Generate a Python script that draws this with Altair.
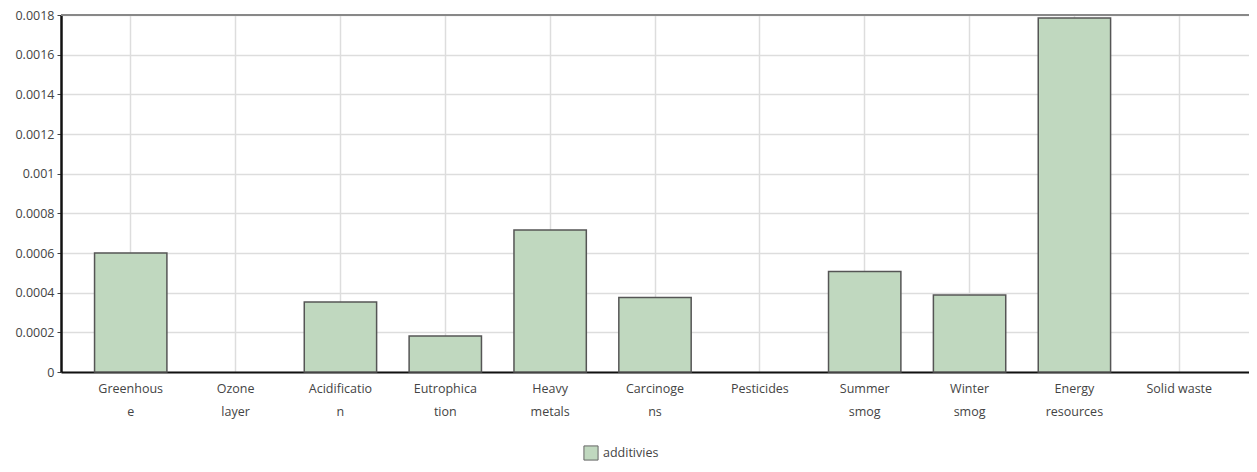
import altair as alt
import pandas as pd

categories = ["Greenhous\ne", "Ozone\nlayer", "Acidificatio\nn", "Eutrophica\ntion",
              "Heavy\nmetals", "Carcinoge\nns", "Pesticides", "Summer\nsmog",
              "Winter\nsmog", "Energy\nresources", "Solid waste"]
values = [0.000600, 0.0, 0.000353, 0.000182, 0.000716, 0.000376, 0.0,
          0.000507, 0.000388, 0.001785, 0.0]
series = ["additivies"] * len(categories)
y_ticks = [0, 0.0002, 0.0004, 0.0006, 0.0008, 0.001,
           0.0012, 0.0014, 0.0016, 0.0018]

df = pd.DataFrame({"category": categories, "value": values, "series": series})

FONT = "Open Sans"

x = alt.X("category:N", sort=categories, title=None,
          scale=alt.Scale(domain=categories, paddingInner=0.31, paddingOuter=0.32),
          axis=alt.Axis(labelAngle=0, labelExpr="split(datum.label, '\\n')",
                        labelLineHeight=23, labelPadding=10, labelFontSize=12.5,
                        labelColor="#444", labelFont=FONT, tickSize=0,
                        labelOverlap=False,
                        domainColor="#111", domainWidth=2,
                        gridColor="#dddddd", gridWidth=1.5, grid=True))
y = alt.Y("value:Q", title=None,
          scale=alt.Scale(domain=[0, 0.0018], nice=False),
          axis=alt.Axis(values=y_ticks, tickCount=20, labelOverlap=False,
                        format="~g", labelFontSize=12.5, labelColor="#444",
                        labelFont=FONT, tickSize=4, tickColor="#444",
                        labelPadding=3, domainColor="#111", domainWidth=2.5,
                        gridColor="#dddddd", gridWidth=1.5))

bars = alt.Chart(df).transform_filter("datum.value > 0").mark_bar(
    stroke="#555555", strokeWidth=1.5).encode(
    x=x, y=y,
    fill=alt.Fill("series:N", title=None,
                  scale=alt.Scale(range=["#c0d8bf"]),
                  legend=alt.Legend(orient="none", legendX=522, legendY=430,
                                    symbolType="square", symbolSize=200,
                                    symbolStrokeColor="#666", symbolStrokeWidth=1,
                                    labelFontSize=12.5, labelFont=FONT,
                                    labelColor="#444")),
)

top_rule = alt.Chart(pd.DataFrame({"top": [0.0018]})).mark_rule(
    color="#888888", strokeWidth=2).encode(y="top:Q")

chart = alt.layer(bars, top_rule).properties(
    width=1188, height=357,
    autosize=alt.AutoSizeParams(type="none"),
    padding={"left": 53, "top": 7, "right": 0, "bottom": 90},
).configure_view(stroke=None).configure(font=FONT)

chart.save("out.html", embed_options={"renderer": "svg", "actions": False})
